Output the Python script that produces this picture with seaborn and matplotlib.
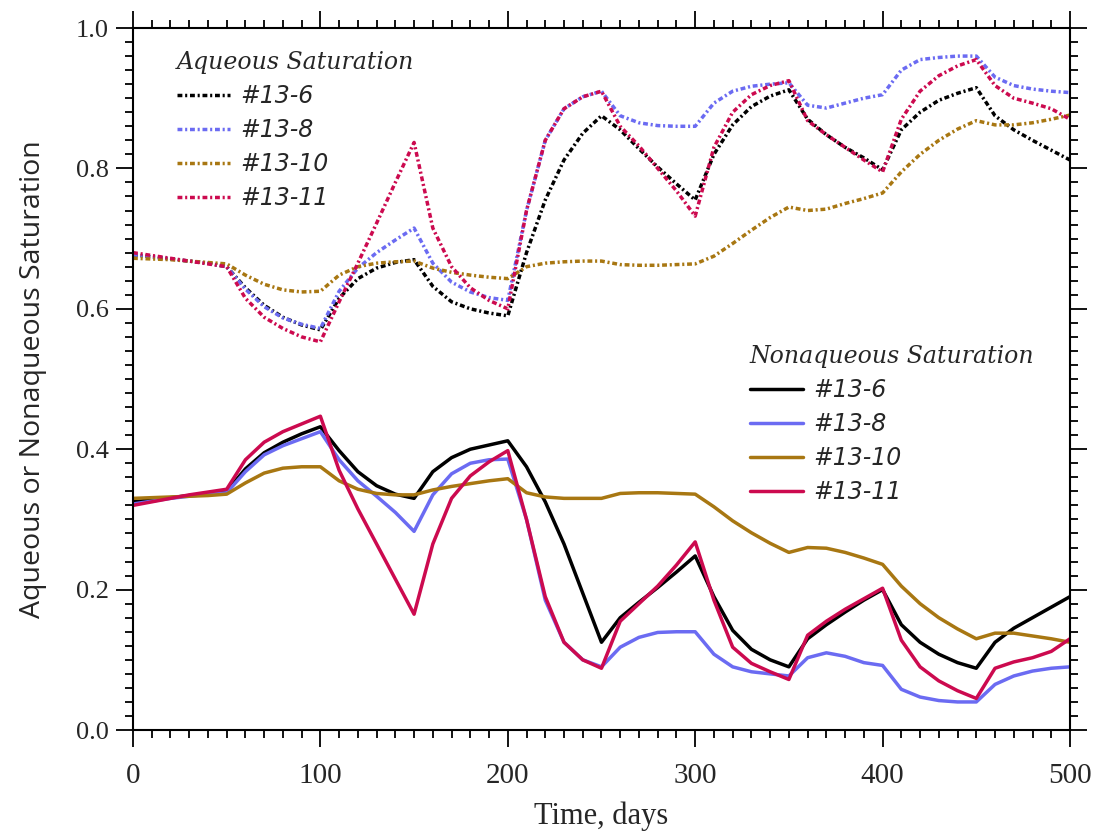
import numpy as np
import pandas as pd
import seaborn as sns
import matplotlib.pyplot as plt
from matplotlib.ticker import MultipleLocator

# time axis, days (every 10 days)
days = list(range(0, 501, 10))

# aqueous saturation (dash-dot curves)
aq_13_6 = [0.677, 0.674, 0.671, 0.668, 0.665, 0.660, 0.630, 0.605, 0.588, 0.577,
           0.570, 0.615, 0.643, 0.658, 0.666, 0.670, 0.632, 0.610, 0.600, 0.594,
           0.590, 0.680, 0.755, 0.812, 0.850, 0.875, 0.855, 0.828, 0.802, 0.778,
           0.755, 0.820, 0.862, 0.888, 0.903, 0.912, 0.870, 0.848, 0.830, 0.815,
           0.798, 0.855, 0.880, 0.897, 0.907, 0.915, 0.875, 0.855, 0.840, 0.826,
           0.812]
aq_13_8 = [0.677, 0.674, 0.671, 0.668, 0.665, 0.660, 0.628, 0.603, 0.587, 0.578,
           0.572, 0.625, 0.658, 0.680, 0.698, 0.715, 0.665, 0.638, 0.624, 0.616,
           0.612, 0.740, 0.840, 0.885, 0.902, 0.910, 0.875, 0.865, 0.861, 0.860,
           0.860, 0.893, 0.910, 0.917, 0.920, 0.922, 0.890, 0.886, 0.893, 0.900,
           0.905, 0.940, 0.955, 0.958, 0.960, 0.960, 0.930, 0.918, 0.913, 0.910,
           0.908]
aq_13_10 = [0.672, 0.671, 0.670, 0.668, 0.666, 0.664, 0.648, 0.635, 0.627, 0.624,
            0.625, 0.648, 0.660, 0.665, 0.667, 0.668, 0.658, 0.652, 0.648, 0.645,
            0.643, 0.660, 0.665, 0.667, 0.668, 0.668, 0.663, 0.662, 0.662, 0.663,
            0.664, 0.675, 0.693, 0.712, 0.730, 0.745, 0.740, 0.742, 0.750, 0.757,
            0.765, 0.795, 0.820, 0.840, 0.856, 0.868, 0.862, 0.862, 0.865, 0.870,
            0.876]
aq_13_11 = [0.680, 0.676, 0.672, 0.668, 0.664, 0.660, 0.615, 0.588, 0.572, 0.560,
            0.553, 0.610, 0.665, 0.722, 0.780, 0.837, 0.715, 0.660, 0.630, 0.612,
            0.600, 0.740, 0.840, 0.885, 0.902, 0.910, 0.860, 0.832, 0.800, 0.768,
            0.732, 0.830, 0.880, 0.905, 0.918, 0.925, 0.868, 0.848, 0.830, 0.812,
            0.795, 0.870, 0.910, 0.932, 0.946, 0.955, 0.918, 0.900, 0.893, 0.885,
            0.870]

# nonaqueous saturation (solid curves)
na_13_6 = [0.325, 0.328, 0.331, 0.334, 0.337, 0.340, 0.372, 0.395, 0.410, 0.422,
           0.432, 0.398, 0.368, 0.348, 0.336, 0.330, 0.368, 0.388, 0.400, 0.406,
           0.412, 0.375, 0.325, 0.265, 0.195, 0.125, 0.160, 0.182, 0.203, 0.225,
           0.248, 0.190, 0.142, 0.115, 0.100, 0.090, 0.130, 0.150, 0.168, 0.185,
           0.200, 0.150, 0.125, 0.108, 0.096, 0.088, 0.125, 0.145, 0.160, 0.175,
           0.190]
na_13_8 = [0.322, 0.326, 0.330, 0.333, 0.336, 0.338, 0.368, 0.392, 0.405, 0.415,
           0.425, 0.385, 0.355, 0.333, 0.310, 0.283, 0.335, 0.365, 0.380, 0.385,
           0.386, 0.300, 0.185, 0.125, 0.100, 0.090, 0.118, 0.132, 0.139, 0.140,
           0.140, 0.108, 0.090, 0.083, 0.080, 0.077, 0.103, 0.110, 0.105, 0.096,
           0.092, 0.058, 0.047, 0.042, 0.040, 0.040, 0.065, 0.077, 0.084, 0.088,
           0.090]
na_13_10 = [0.330, 0.331, 0.332, 0.333, 0.334, 0.336, 0.352, 0.366, 0.373, 0.375,
            0.375, 0.355, 0.343, 0.337, 0.335, 0.335, 0.342, 0.347, 0.351, 0.355,
            0.358, 0.338, 0.332, 0.330, 0.330, 0.330, 0.337, 0.338, 0.338, 0.337,
            0.336, 0.318, 0.298, 0.281, 0.266, 0.253, 0.260, 0.259, 0.253, 0.245,
            0.236, 0.205, 0.180, 0.160, 0.144, 0.130, 0.138, 0.138, 0.134, 0.130,
            0.125]
na_13_11 = [0.320, 0.325, 0.330, 0.335, 0.339, 0.343, 0.385, 0.410, 0.425, 0.436,
            0.447, 0.370, 0.315, 0.265, 0.215, 0.165, 0.265, 0.330, 0.362, 0.382,
            0.398, 0.300, 0.190, 0.125, 0.100, 0.088, 0.155, 0.180, 0.205, 0.235,
            0.268, 0.185, 0.118, 0.095, 0.083, 0.072, 0.135, 0.155, 0.172, 0.187,
            0.202, 0.128, 0.090, 0.070, 0.056, 0.045, 0.088, 0.097, 0.103, 0.112,
            0.130]

labels = ["#13-6", "#13-8", "#13-10", "#13-11"]
colors = ["#000000", "#6b6bf2", "#a87712", "#cc0a4f"]
aqueous = [aq_13_6, aq_13_8, aq_13_10, aq_13_11]
nonaqueous = [na_13_6, na_13_8, na_13_10, na_13_11]

sns.set_style("ticks")
plt.rcParams["font.family"] = ["Liberation Serif", "DejaVu Sans"]

fig = plt.figure(figsize=(10.99, 8.31), dpi=100)
ax = fig.add_axes([0.121, 0.1215, 0.8526, 0.8448])

dashdot = (0, (1.4, 0.8, 0.6, 0.8))
aq_handles = []
for lab, col, vals in zip(labels, colors, aqueous):
    sns.lineplot(x=days, y=vals, ax=ax, color=col, linewidth=2.5)
    ln = ax.lines[-1]
    ln.set_linestyle(dashdot)
    ln.set_label(lab)
    aq_handles.append(ln)

na_handles = []
for lab, col, vals in zip(labels, colors, nonaqueous):
    sns.lineplot(x=days, y=vals, ax=ax, color=col, linewidth=2.5)
    ln = ax.lines[-1]
    ln.set_label(lab)
    na_handles.append(ln)

ax.set_xlim(0, 500)
ax.set_ylim(0, 1.0)
ax.xaxis.set_major_locator(MultipleLocator(100))
ax.xaxis.set_minor_locator(MultipleLocator(10))
ax.yaxis.set_major_locator(MultipleLocator(0.2))
ax.yaxis.set_minor_locator(MultipleLocator(0.02))
ax.yaxis.set_major_formatter(plt.FormatStrFormatter("%.1f"))
ax.tick_params(which="both", direction="out", top=True, right=True,
               labeltop=False, labelright=False, width=1.3, color="black")
ax.tick_params(which="major", length=12.5)
ax.tick_params(which="minor", length=6)
ax.tick_params(axis="x", which="major", labelsize=21, pad=11)
ax.tick_params(axis="y", which="major", labelsize=19, pad=5)
for s in ax.spines.values():
    s.set_linewidth(1.5)
    s.set_color("black")

ax.set_xlabel("Time, days", fontsize=22, family="Liberation Serif", labelpad=9)
ax.set_ylabel("Aqueous or Nonaqueous Saturation", fontsize=20.5,
              family="Open Sans", labelpad=21)

leg_kw = dict(frameon=False, title_fontsize=17, handlelength=2.25,
              handletextpad=0.45, labelspacing=0.42, alignment="left",
              borderaxespad=0, borderpad=0,
              prop={"family": "DejaVu Sans", "style": "italic", "size": 17})
leg1 = ax.legend(handles=aq_handles, labels=labels, title="Aqueous Saturation",
                 loc="upper left", bbox_to_anchor=(0.047, 0.967), **leg_kw)
leg1.get_title().set_fontstyle("italic")
leg1.get_title().set_family("DejaVu Serif")
ax.add_artist(leg1)
leg2 = ax.legend(handles=na_handles, labels=labels, title="Nonaqueous Saturation",
                 loc="upper left", bbox_to_anchor=(0.658, 0.548), **leg_kw)
leg2.get_title().set_fontstyle("italic")
leg2.get_title().set_family("DejaVu Serif")

fig.savefig("out.png", dpi=100)
